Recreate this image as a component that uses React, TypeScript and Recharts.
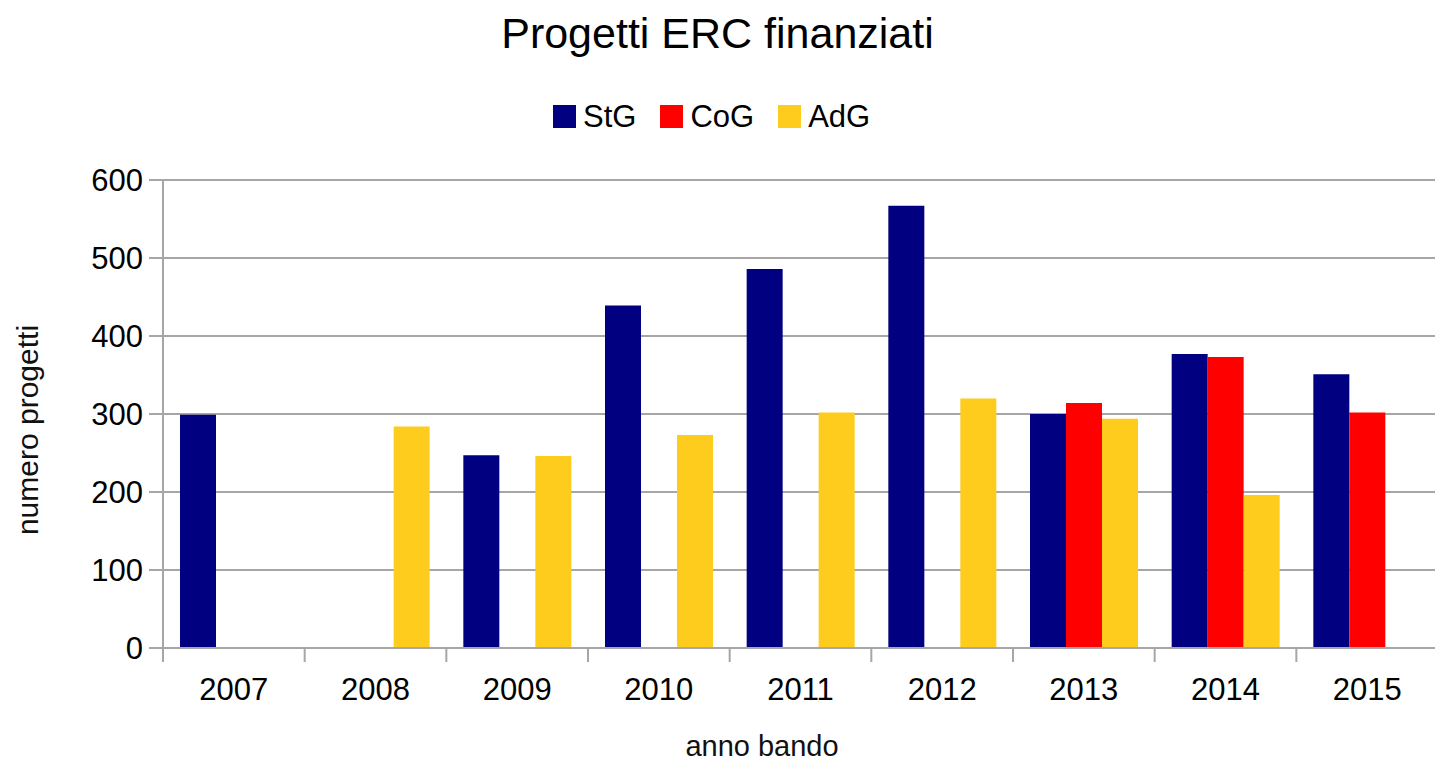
import React from 'react';
import { BarChart, Bar, XAxis, YAxis, CartesianGrid, Label } from 'recharts';

// ---- data ----
const years = ['2007', '2008', '2009', '2010', '2011', '2012', '2013', '2014', '2015'];
const stgValues = [299, null, 247, 439, 486, 567, 300, 377, 351];
const cogValues = [null, null, null, null, null, null, 314, 373, 302];
const adgValues = [null, 284, 246, 273, 302, 320, 294, 196, null];
const yTicks = [0, 100, 200, 300, 400, 500, 600];
const seriesNames = ['StG', 'CoG', 'AdG'];
const seriesColors = ['#000080', '#ff0000', '#fdcc1c'];
const titleText = 'Progetti ERC finanziati';
const xAxisTitle = 'anno bando';
const yAxisTitle = 'numero progetti';

const seriesValues = [stgValues, cogValues, adgValues];
const data = years.map((year, i) => {
  const row: Record<string, any> = { year };
  seriesNames.forEach((name, s) => {
    row[name] = seriesValues[s][i];
  });
  return row;
});

// ---- layout ----
const FONT = '"Liberation Sans", Arial, sans-serif';
const GRID = '#a6a6a6';
const CHART_W = 1440;
const CHART_H = 763;
const MARGIN = { top: 180, right: 2, bottom: 0, left: 0 };
const Y_AXIS_W = 163;
const X_AXIS_H = 115;
const PLOT_BOTTOM = CHART_H - MARGIN.bottom - X_AXIS_H;
const PLOT_W = CHART_W - MARGIN.left - MARGIN.right - Y_AXIS_W;
const BAND = PLOT_W / years.length;

const XTick = (props: any) => {
  const { x, payload, index } = props;
  const half = BAND / 2;
  return (
    <g>
      <line x1={x - half} x2={x - half} y1={PLOT_BOTTOM} y2={PLOT_BOTTOM + 14} stroke={GRID} strokeWidth={2} />
      {index === years.length - 1 && (
        <line x1={x + half} x2={x + half} y1={PLOT_BOTTOM} y2={PLOT_BOTTOM + 14} stroke={GRID} strokeWidth={2} />
      )}
      <text x={x} y={PLOT_BOTTOM + 52} textAnchor="middle" fontSize={31} fontFamily={FONT} fill="#000">
        {payload.value}
      </text>
    </g>
  );
};

const YLabel = () => (
  <text
    x={38}
    y={430}
    transform="rotate(-90, 38, 430)"
    textAnchor="middle"
    fontSize={30}
    fontFamily={FONT}
    fill="#111"
  >
    {yAxisTitle}
  </text>
);

const XLabel = () => (
  <text x={762} y={756} textAnchor="middle" fontSize={29} fontFamily={FONT} fill="#111">
    {xAxisTitle}
  </text>
);

export default function App() {
  return (
    <div
      style={{
        position: 'absolute',
        left: 0,
        top: 0,
        width: 1435,
        height: 763,
        overflow: 'hidden',
        background: '#fff',
        fontFamily: FONT,
      }}
    >
      <div
        style={{
          position: 'absolute',
          left: 0,
          top: 11.5,
          width: 1435,
          textAlign: 'center',
          fontSize: 43,
          lineHeight: 1,
          color: '#000',
          zIndex: 2,
        }}
      >
        {titleText}
      </div>
      <div
        style={{
          position: 'absolute',
          left: 553,
          top: 104.5,
          height: 23,
          display: 'flex',
          alignItems: 'center',
          zIndex: 2,
        }}
      >
        {seriesNames.map((name, i) => (
          <div key={name} style={{ display: 'flex', alignItems: 'center', marginRight: 24 }}>
            <div style={{ width: 23, height: 23, background: seriesColors[i], marginRight: 7 }} />
            <span style={{ fontSize: 31, lineHeight: '23px', color: '#000' }}>{name}</span>
          </div>
        ))}
      </div>
      <div style={{ position: 'absolute', left: 0, top: 0 }}>
        <BarChart
          width={CHART_W}
          height={CHART_H}
          data={data}
          margin={MARGIN}
          barCategoryGap="12%"
          barGap={0}
        >
          <CartesianGrid vertical={false} stroke={GRID} strokeWidth={2} />
          <XAxis
            dataKey="year"
            height={X_AXIS_H}
            axisLine={{ stroke: GRID, strokeWidth: 2 }}
            tickLine={false}
            tick={<XTick />}
            interval={0}
          >
            <Label content={<XLabel />} />
          </XAxis>
          <YAxis
            width={Y_AXIS_W}
            domain={[0, 600]}
            ticks={yTicks}
            interval={0}
            axisLine={{ stroke: GRID, strokeWidth: 2 }}
            tickLine={{ stroke: GRID, strokeWidth: 2 }}
            tickSize={14}
            tickMargin={6}
            tick={{ fontSize: 31, fontFamily: FONT, fill: '#000' }}
          >
            <Label content={<YLabel />} />
          </YAxis>
          {seriesNames.map((name, i) => (
            <Bar key={name} dataKey={name} fill={seriesColors[i]} isAnimationActive={false} />
          ))}
        </BarChart>
      </div>
    </div>
  );
}
